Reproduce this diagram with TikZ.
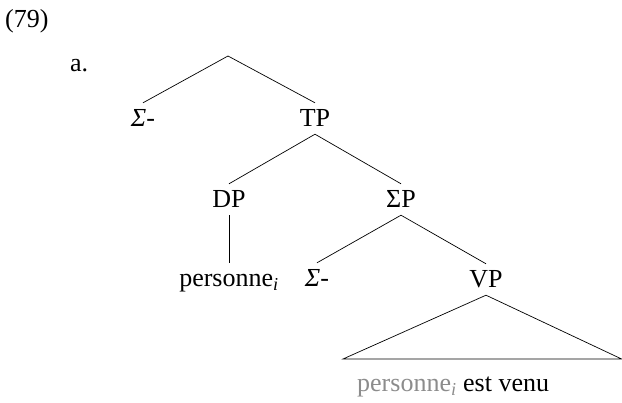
\documentclass[tikz,border=0pt]{standalone}
\usepackage{fontspec}
\setmainfont{Liberation Serif}
\usepackage{xcolor}
\definecolor{tracegray}{gray}{0.55}

\begin{document}
\begin{tikzpicture}[x=1pt, y=-1pt, font=\fontsize{26}{31}\selectfont]
        \tikzstyle{cat}=[inner sep=0pt, text height=24pt, text depth=7pt, anchor=base]
        \tikzstyle{branch}=[line width=0.7pt]
        \useasboundingbox (0,0) rectangle (622,403);

        % Example number and letter
        \node[anchor=base west, inner sep=0pt] (num) at (5,28) {(79)};
        \node[anchor=base west, inner sep=0pt] (let) at (70,72) {a.};

        % Unlabelled root
        \coordinate (root) at (228,56);

        % First level
        \node[cat] (sig1) at (143,127) {\textit{Σ}-};
        \node[cat] (tp) at (315,127) {TP};

        % Second level
        \node[cat] (dp) at (229,208) {DP};
        \node[cat] (sp) at (401,208) {ΣP};

        % Third level
        \node[cat] (pers) at (229,287) {personne\textsubscript{\textit{i}}};
        \node[cat] (sig2) at (317,287) {\textit{Σ}-};
        \node[cat] (vp) at (486,288) {VP};

        % Base of the VP triangle
        \coordinate (tl) at (343,359);
        \coordinate (tr) at (621.6,359);

        % Yield under the triangle, with the lower copy in grey
        \node[anchor=base west, inner sep=0pt] (yield) at (357,392)
            {\textcolor{tracegray}{personne\textsubscript{\textit{i}}} est venu};

        % Branches
        \draw[branch] (root) -- (sig1.north);
        \draw[branch] (root) -- (tp.north);
        \draw[branch] (tp.south) -- (dp.north);
        \draw[branch] (tp.south) -- (sp.north);
        \draw[branch] (dp.south) -- (dp.south |- pers.north);
        \draw[branch] (sp.south) -- (sig2.north);
        \draw[branch] (sp.south) -- (vp.north);

        % Triangle for the VP
        \draw[branch] (vp.south) -- (tl) -- (tr) -- cycle;
\end{tikzpicture}
\end{document}
